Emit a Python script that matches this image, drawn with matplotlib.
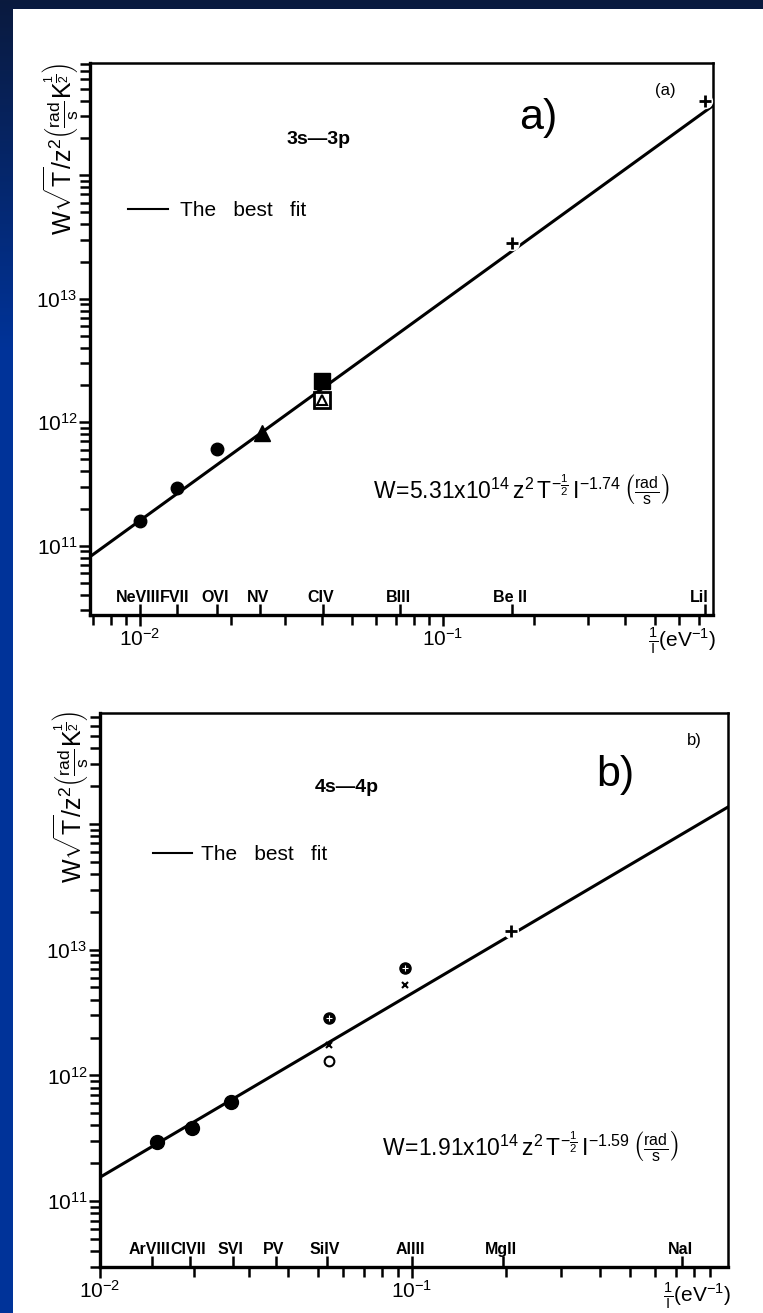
import numpy as np
import matplotlib
matplotlib.use('Agg')
import matplotlib.pyplot as plt
import matplotlib.colors as mcolors
import matplotlib.transforms as mtransforms
from matplotlib.patches import Rectangle
from matplotlib.lines import Line2D
from matplotlib.ticker import LogLocator, NullFormatter

plt.rcParams['font.family'] = ['Liberation Sans', 'DejaVu Sans']
plt.rcParams['mathtext.fontset'] = 'custom'
plt.rcParams['mathtext.rm'] = 'Liberation Sans'
plt.rcParams['mathtext.it'] = 'Liberation Sans'
plt.rcParams['mathtext.sf'] = 'Liberation Sans'
plt.rcParams['mathtext.bf'] = 'Liberation Sans:bold'

# ---------------- Panel a data (3s-3p) ----------------
a_species = ['NeVIII', 'FVII', 'OVI', 'NV', 'CIV', 'BIII', 'Be II', 'LiI']
a_species_x = [0.0100, 0.01324, 0.0180, 0.0249, 0.0402, 0.0721, 0.169, 0.733]
a_circle_x = [0.0100, 0.01324, 0.01796]
a_circle_y = [1.60e11, 2.95e11, 6.1e11]
a_triangle_x = [0.0253]
a_triangle_y = [8.2e11]
a_fsquare_x = [0.0398]
a_fsquare_y = [2.14e12]
a_osquare_x = [0.0398]
a_osquare_y = [1.50e12]
a_plus_x = [0.169, 0.73]
a_plus_y = [2.84e13, 4.0e14]
a_fit_x = [0.00684, 0.778]
a_fit_y = [8.15e10, 3.66e14]
a_xlim = (0.00684, 0.778)
a_ylim = (2.75e10, 8.1e14)

# ---------------- Panel b data (4s-4p) ----------------
b_species = ['ArVIII', 'ClVII', 'SVI', 'PV', 'SiIV', 'AlIII', 'MgII', 'NaI']
b_species_x = [0.01468, 0.01943, 0.02667, 0.03664, 0.05339, 0.100, 0.196, 0.7335]
b_circle_x = [0.01524, 0.01968, 0.02630]
b_circle_y = [2.94e11, 3.85e11, 6.14e11]
b_dotcircle_x = [0.0542, 0.0950]
b_dotcircle_y = [2.87e12, 7.16e12]
b_cross_x = [0.0540, 0.0950]
b_cross_y = [1.76e12, 5.27e12]
b_ocircle_x = [0.0540]
b_ocircle_y = [1.31e12]
b_plus_x = [0.2075]
b_plus_y = [1.40e13]
b_fit_x = [0.0100, 1.03]
b_fit_y = [1.55e11, 1.36e14]
b_xlim = (0.0100, 1.03)
b_ylim = (3.0e10, 7.6e14)

# tick labels
x_major = [1e-2, 1e-1]
x_major_labels = [r'$10^{-2}$', r'$10^{-1}$']
y_major = [1e11, 1e12, 1e13, 1e14]
y_major_labels = [r'$10^{11}$', r'$10^{12}$', r'$10^{13}$', '']

ylabel_text = r'$\mathrm{W\sqrt{T}/z^2\left(\frac{rad}{s}K^{\frac{1}{2}}\right)}$'
xlabel_text = r'$\frac{1}{\mathrm{I}}(\mathrm{eV}^{-1})$'
formula_a = r'$\mathrm{W\!=\!5.31x10^{14}\,z^2\,T^{-\frac{1}{2}}\,I^{-1.74}\,\left(\frac{rad}{s}\right)}$'
formula_b = r'$\mathrm{W\!=\!1.91x10^{14}\,z^2\,T^{-\frac{1}{2}}\,I^{-1.59}\,\left(\frac{rad}{s}\right)}$'
legend_text = 'The   best   fit'

W, H = 763, 1313
fig = plt.figure(figsize=(W / 100, H / 100), dpi=100)

# background gradient
bg = fig.add_axes([0, 0, 1, 1], zorder=-10)
t = np.clip(np.arange(H) / 350.0, 0, 1)[:, None]
c_top = np.array(mcolors.to_rgb('#0a1a3e'))
c_bot = np.array(mcolors.to_rgb('#003399'))
grad = (c_top * (1 - t) + c_bot * t)[:, None, :]
bg.imshow(grad, aspect='auto', extent=[0, 1, 0, 1], origin='upper')
bg.axis('off')
fig.patches.append(Rectangle((13 / W, 0), 1 - 13 / W, 1 - 9 / H,
                             transform=fig.transFigure, facecolor='white',
                             edgecolor='none', zorder=-5))


def frame(ax, xlim, ylim, species, species_x, last_right=False):
    ax.set_xscale('log')
    ax.set_yscale('log')
    ax.set_xlim(*xlim)
    ax.set_ylim(*ylim)
    ax.set_xticks(x_major, labels=x_major_labels)
    ax.set_yticks(y_major, labels=y_major_labels)
    ax.xaxis.set_minor_locator(LogLocator(base=10, subs=np.arange(2, 10) * 1.0, numticks=30))
    ax.yaxis.set_minor_locator(LogLocator(base=10, subs=np.arange(2, 10) * 1.0, numticks=30))
    ax.xaxis.set_minor_formatter(NullFormatter())
    ax.yaxis.set_minor_formatter(NullFormatter())
    ax.tick_params(which='both', direction='out', top=False, right=False,
                   width=1.8, labelsize=15, pad=1)
    ax.tick_params(which='major', length=8)
    ax.tick_params(which='minor', length=7)
    for s in ['left', 'bottom']:
        ax.spines[s].set_linewidth(2.4)
    for s in ['top', 'right']:
        ax.spines[s].set_linewidth(1.8)
    # species ticks (inward) and labels
    ax.plot(species_x, [0] * len(species_x), transform=ax.get_xaxis_transform(),
            ls='none', marker=2, ms=8, mew=1.8, color='black', clip_on=False)
    base = ax.get_xaxis_transform()
    for i, (name, x) in enumerate(zip(species, species_x)):
        if last_right and i == len(species) - 1:
            tr = mtransforms.offset_copy(base, fig=fig, x=3, y=0, units='dots')
            ha = 'right'
        else:
            tr = mtransforms.offset_copy(base, fig=fig, x=-2, y=0, units='dots')
            ha = 'center'
        ax.text(x, 0.031, name, transform=tr, ha=ha, va='center',
                fontsize=11.5, fontweight='bold')


def plus_markers(ax, xs, ys):
    ax.plot(xs, ys, ls='none', marker='o', ms=11, mfc='white', mec='none', zorder=3)
    ax.plot(xs, ys, ls='none', marker='+', ms=8, mew=2, color='black', zorder=4)


# ---------------- Panel a ----------------
axa = fig.add_axes([90 / W, 1 - 615 / H, 623 / W, 552 / H])
frame(axa, a_xlim, a_ylim, a_species, a_species_x, last_right=True)
axa.plot(a_fit_x, a_fit_y, color='black', lw=2.2, zorder=2)
axa.plot(a_circle_x, a_circle_y, ls='none', marker='o', ms=9, color='black', zorder=4)
axa.plot(a_triangle_x, a_triangle_y, ls='none', marker='^', ms=12, color='black', zorder=4)
axa.plot(a_fsquare_x, a_fsquare_y, ls='none', marker='s', ms=11, color='black', zorder=4)
axa.plot(a_osquare_x, a_osquare_y, ls='none', marker='s', ms=12, mfc='white', mec='black', mew=2, zorder=4)
axa.plot(a_osquare_x, a_osquare_y, ls='none', marker='^', ms=7, mfc='white', mec='black', mew=1.5, zorder=5)
plus_markers(axa, a_plus_x, a_plus_y)
leg_a = Line2D([], [], color='black', lw=1.5)
axa.legend(handles=[leg_a], labels=[legend_text], loc='center left',
           bbox_to_anchor=(0.061, 0.732), frameon=False, borderpad=0, borderaxespad=0,
           handlelength=1.9, handletextpad=0.6, fontsize=15)
axa.text(0.923, 0.951, '(a)', transform=axa.transAxes, ha='center', va='center', fontsize=12)
axa.text(0.719, 0.900, 'a)', transform=axa.transAxes, ha='center', va='center', fontsize=31)
axa.text(0.3676, 0.862, '3s\u20143p', transform=axa.transAxes, ha='center', va='center',
         fontsize=14, fontweight='bold')
axa.text(0.693, 0.226, formula_a, transform=axa.transAxes, ha='center', va='center', fontsize=16.5)
axa.text(-0.048, 1.0, ylabel_text, transform=axa.transAxes, rotation=90, ha='center',
         va='top', fontsize=18)
axa.text(0.950, -0.047, xlabel_text, transform=axa.transAxes, ha='center', va='center', fontsize=15)

# ---------------- Panel b ----------------
axb = fig.add_axes([100 / W, 1 - 1267 / H, 628 / W, 554 / H])
frame(axb, b_xlim, b_ylim, b_species, b_species_x)
axb.plot(b_fit_x, b_fit_y, color='black', lw=2.2, zorder=2)
axb.plot(b_circle_x, b_circle_y, ls='none', marker='o', ms=10, color='black', zorder=4)
axb.plot(b_dotcircle_x, b_dotcircle_y, ls='none', marker='o', ms=8, color='black', zorder=4)
axb.plot(b_dotcircle_x, b_dotcircle_y, ls='none', marker='+', ms=4, mew=0.8, color='white', zorder=5)
axb.plot(b_cross_x, b_cross_y, ls='none', marker='x', ms=5, mew=1.5, color='black', zorder=4)
axb.plot(b_ocircle_x, b_ocircle_y, ls='none', marker='o', ms=7, mfc='white', mec='black', mew=1.5, zorder=4)
plus_markers(axb, b_plus_x, b_plus_y)
leg_b = Line2D([], [], color='black', lw=1.5)
axb.legend(handles=[leg_b], labels=[legend_text], loc='center left',
           bbox_to_anchor=(0.084, 0.744), frameon=False, borderpad=0, borderaxespad=0,
           handlelength=1.9, handletextpad=0.4, fontsize=15)
axb.text(0.947, 0.951, 'b)', transform=axb.transAxes, ha='center', va='center', fontsize=12)
axb.text(0.820, 0.888, 'b)', transform=axb.transAxes, ha='center', va='center', fontsize=31)
axb.text(0.393, 0.865, '4s\u20144p', transform=axb.transAxes, ha='center', va='center',
         fontsize=14, fontweight='bold')
axb.text(0.686, 0.217, formula_b, transform=axb.transAxes, ha='center', va='center', fontsize=16.5)
axb.text(-0.048, 1.005, ylabel_text, transform=axb.transAxes, rotation=90, ha='center',
         va='top', fontsize=18)
axb.text(0.951, -0.052, xlabel_text, transform=axb.transAxes, ha='center', va='center', fontsize=15)

fig.savefig('out.png', dpi=100)
